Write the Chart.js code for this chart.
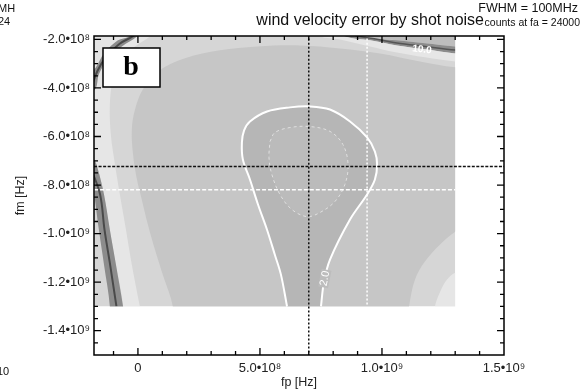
<!DOCTYPE html>
<html>
<head>
<meta charset="utf-8">
<script src="https://cdn.jsdelivr.net/npm/chart.js@4.4.1/dist/chart.umd.min.js"></script>
<style>
  html, body { margin: 0; padding: 0; background: #fff; }
</style>
</head>
<body>
<canvas id="myChart" width="581" height="392"></canvas>
<script>
const E8 = 1e8;

const xTickValues = [0, 5e8, 1e9, 1.5e9];
const xTickLabels = ['0', '5.0•10⁸', '1.0•10⁹', '1.5•10⁹'];
const yTickValues = [-2e8, -4e8, -6e8, -8e8, -1e9, -1.2e9, -1.4e9];
const yTickLabels = ['-2.0•10⁸', '-4.0•10⁸', '-6.0•10⁸', '-8.0•10⁸', '-1.0•10⁹', '-1.2•10⁹', '-1.4•10⁹'];

// computed map area
const mapArea = [[-3, 0], [13, 0], [13, -13], [-3, -13]];
const cornerTopLeft = [[-2.5, -1.5], [-0.15, -1.5], [-0.33, -1.88], [-0.8, -2.08], [-1.37, -2.62], [-1.7, -3.2], [-2.3, -3.95]];
const mediumBlob = [[1.43, -14], [1.43, -13], [1.02, -11.69], [0.70, -10.66], [0.41, -9.63], [0.16, -8.60], [-0.04, -7.77],
  [-0.20, -6.74], [-0.25, -5.71], [-0.12, -4.89], [0.20, -4.06], [0.82, -3.32], [1.93, -2.78], [3.36, -2.45], [4.88, -2.29],
  [6.64, -2.25], [8.28, -2.37], [9.92, -2.58], [11.56, -2.91], [13, -3.15], [15, -3.3], [15, -9.4], [13.6, -9.6], [13, -9.92],
  [12.38, -10.45], [11.76, -11.15], [11.35, -11.90], [11.11, -13], [11.0, -14]];
const paleLeft = [[0.7, -1.6], [0.49, -1.88], [-0.12, -2.29], [-0.66, -2.82], [-1.02, -3.65], [-1.15, -4.68], [-1.11, -5.92],
  [-0.94, -7.15], [-0.74, -8.39], [-0.49, -9.84], [-0.25, -11.28], [0.08, -13], [0.2, -13.6], [-0.7, -13.6], [-0.61, -13],
  [-0.90, -11.28], [-1.15, -9.84], [-1.39, -8.39], [-1.64, -7.36], [-1.85, -6.85], [-2.3, -6.3], [-2.3, -4.3], [-1.76, -4.06],
  [-1.60, -3.44], [-1.23, -2.82], [-0.66, -2.29], [-0.04, -1.88], [0.1, -1.6]];
const stripeTopLeft = [[0.1, -1.6], [-0.04, -1.88], [-0.66, -2.29], [-1.23, -2.82], [-1.60, -3.44], [-1.76, -4.06], [-2.3, -4.3],
  [-2.3, -3.9], [-1.72, -3.15], [-1.39, -2.58], [-0.82, -2.04], [-0.37, -1.88], [-0.2, -1.6]];
const bandLeft = [[-2.3, -6.6], [-1.80, -6.95], [-1.64, -7.36], [-1.39, -8.39], [-1.15, -9.84], [-0.90, -11.28], [-0.61, -13],
  [-0.55, -13.6], [-1.2, -13.6], [-1.15, -13], [-1.39, -11.28], [-1.60, -9.84], [-1.76, -8.60], [-1.85, -7.9], [-2.3, -7.6]];
const capTopRight = [[8.9, -1.5], [14, -1.5], [14, -2.35], [13, -2.29], [11.76, -2.16], [10.61, -2.04], [9.10, -1.88]];
const bandTopRight = [[8.9, -1.6], [9.10, -1.88], [10.61, -2.04], [11.76, -2.16], [13, -2.29], [14, -2.35], [14, -2.62],
  [13, -2.58], [11.76, -2.41], [10.61, -2.25], [9.51, -2.04], [8.48, -1.88], [8.2, -1.6]];
const paleTopRight = [[8.2, -1.6], [8.48, -1.88], [9.51, -2.04], [10.61, -2.25], [11.76, -2.41], [13, -2.58], [14, -2.62],
  [14, -2.97], [13, -2.91], [11.76, -2.74], [10.61, -2.54], [9.51, -2.29], [8.28, -2.0], [7.46, -1.88], [7.2, -1.6]];
const paleBottomRight = [[12.1, -14], [12.17, -13], [12.38, -12.40], [12.66, -11.90], [13, -11.61], [14, -11.4], [14, -14]];

// 2.0 contour (white) and the inner dashed contour
const contour20 = [[6.11, -13], [5.86, -11.69], [5.61, -10.87], [5.29, -9.84], [4.92, -8.80], [4.59, -7.77], [4.30, -6.95],
  [4.26, -6.25], [4.35, -5.75], [4.59, -5.38], [5.29, -4.97], [6.23, -4.80], [7.05, -4.76], [7.87, -4.89], [8.69, -5.38],
  [9.39, -6.04], [9.71, -6.62], [9.80, -7.15], [9.71, -7.77], [9.39, -8.39], [8.69, -9.42], [7.87, -11.07], [7.62, -12.0], [7.50, -13]];
const contourInner = [[5.41, -6.21], [5.61, -5.84], [6.23, -5.63], [7.05, -5.59], [7.87, -5.79], [8.40, -6.33], [8.61, -7.15],
  [8.48, -7.98], [8.07, -8.68], [7.46, -9.13], [6.93, -9.30], [6.31, -9.01], [5.82, -8.39], [5.49, -7.57], [5.37, -6.87], [5.41, -6.21]];

// darker contour lines inside the high bands
const coreLeft = [[-1.95, -7.25], [-1.55, -8.39], [-1.37, -9.84], [-1.14, -11.28], [-0.88, -13]];
const coreTopLeft = [[0.0, -1.7], [-0.22, -1.88], [-0.75, -2.18], [-1.3, -2.72], [-1.66, -3.3], [-1.9, -3.95]];
const coreTopRight = [[8.9, -1.85], [9.8, -1.99], [10.61, -2.15], [11.76, -2.29], [13, -2.44], [14, -2.5]];

const outside = [[13, -1.5], [16, -1.5], [16, -16], [-3, -16], [-3, -13], [13, -13]];

// marker lines
const fpMark = [[7.0, -1.8], [7.0, -15]];
const fmMark = [[-1.8, -7.24], [15, -7.24]];
const fpWhite = [[9.39, -1.8], [9.39, -13]];
const fmWhite = [[-1.8, -8.19], [13, -8.19]];

function toXY(pts) {
  return pts.map(p => ({x: p[0] * E8, y: p[1] * E8}));
}
function area(pts, color, tension) {
  return {data: toXY(pts), backgroundColor: color, borderColor: 'transparent', borderWidth: 0,
    fill: 'shape', pointRadius: 0, tension: tension === undefined ? 0.35 : tension};
}
function line(pts, color, width, dash) {
  return {data: toXY(pts), borderColor: color, borderWidth: width, borderDash: dash || [],
    fill: false, pointRadius: 0, tension: 0.35};
}

// painting order: first is at the bottom
const layers = [
  area(mapArea, '#d6d6d6', 0),
  area(cornerTopLeft, '#e4e4e4'),
  area(mediumBlob, '#c6c6c6'),
  area(paleLeft, '#e6e6e6'),
  area(stripeTopLeft, '#8c8c8c'),
  area(bandLeft, '#8c8c8c'),
  area(capTopRight, '#bdbdbd'),
  area(bandTopRight, '#8c8c8c'),
  area(paleTopRight, '#e6e6e6'),
  area(paleBottomRight, '#e6e6e6'),
  area(contour20.concat([[7.45, -13.6], [6.15, -13.6]]), '#b6b6b6'),
  area(contourInner, '#bbbbbb'),
  line(coreLeft, '#4a4a4a', 2),
  line(coreTopLeft, '#4a4a4a', 2),
  line(coreTopRight, '#555555', 1.5),
  line(contour20, '#ffffff', 2),
  line(contourInner, '#e0e0e0', 1, [3, 3]),
  area(outside, '#ffffff', 0),
  line(fpWhite, '#ffffff', 1.5, [2, 2]),
  line(fmWhite, '#ffffff', 1.5, [4, 2]),
  line(fpMark, '#111111', 1.5, [2, 2]),
  line(fmMark, '#111111', 1.5, [3, 1.5])
];
layers.forEach((d, i) => { d.order = layers.length - i; });

const SANS = "'Liberation Sans', Arial, sans-serif";

const framePlugin = {
  id: 'frame',
  afterDatasetsDraw(chart) {
    const {ctx, chartArea: a, scales: {x, y}} = chart;
    ctx.save();

    // contour labels
    ctx.fillStyle = '#ffffff';
    ctx.textAlign = 'center';
    ctx.textBaseline = 'middle';
    ctx.save();
    ctx.translate(x.getPixelForValue(7.66e8), y.getPixelForValue(-11.85e8));
    ctx.rotate(-1.38);
    ctx.fillStyle = '#bdbdbd';
    ctx.fillRect(-9, -5, 18, 10);
    ctx.fillStyle = '#ffffff';
    ctx.font = '11px ' + SANS;
    ctx.fillText('2.0', 0, 0);
    ctx.restore();
    ctx.save();
    ctx.translate(x.getPixelForValue(11.64e8), y.getPixelForValue(-2.42e8));
    ctx.rotate(0.12);
    ctx.font = 'bold 10px ' + SANS;
    ctx.fillText('10.0', 0, 0);
    ctx.restore();

    // panel letter
    ctx.fillStyle = '#fff';
    ctx.fillRect(a.left + 9, a.top + 12, 57, 39);
    ctx.strokeStyle = '#000';
    ctx.lineWidth = 1.5;
    ctx.strokeRect(a.left + 9, a.top + 12, 57, 39);
    ctx.fillStyle = '#000';
    ctx.font = "bold 28px 'Liberation Serif', 'DejaVu Serif', serif";
    ctx.fillText('b', a.left + 37, a.top + 32);

    // frame
    ctx.strokeRect(a.left, a.top, a.right - a.left, a.bottom - a.top);

    // inward ticks on all four sides
    ctx.lineWidth = 1.3;
    ctx.beginPath();
    const xt = (v, len) => {
      const px = x.getPixelForValue(v);
      ctx.moveTo(px, a.bottom); ctx.lineTo(px, a.bottom - len);
      ctx.moveTo(px, a.top); ctx.lineTo(px, a.top + len);
    };
    const yt = (v, len) => {
      const py = y.getPixelForValue(v);
      ctx.moveTo(a.left, py); ctx.lineTo(a.left + len, py);
      ctx.moveTo(a.right, py); ctx.lineTo(a.right - len, py);
    };
    for (let k = -1; k <= 14; k++) xt(k * 1e8, k % 5 === 0 ? 7 : 4);
    for (let k = -29; k <= -4; k++) yt(k * 5e7, k % 4 === 0 ? 7 : 4);
    ctx.stroke();
    ctx.restore();
  },
  afterDraw(chart) {
    const ctx = chart.ctx;
    ctx.save();
    ctx.fillStyle = '#111';
    ctx.textBaseline = 'alphabetic';
    ctx.textAlign = 'right';
    ctx.font = '16px ' + SANS;
    ctx.fillText('wind velocity error by shot noise', 484, 25);
    ctx.font = '12.5px ' + SANS;
    ctx.fillText('FWHM = 100MHz', 578, 12);
    ctx.font = '10.5px ' + SANS;
    ctx.fillText('counts at fa = 24000', 580, 26);
    // pieces of the neighbouring panel
    ctx.textAlign = 'left';
    ctx.font = '11px ' + SANS;
    ctx.fillText('MH', -2, 12);
    ctx.fillText('24', -2, 25);
    ctx.fillText('10', -3, 375);
    ctx.restore();
  }
};

const ctx = document.getElementById('myChart').getContext('2d');
const myChart = new Chart(ctx, {
  type: 'line',
  data: { datasets: layers },
  options: {
    responsive: false,
    animation: false,
    devicePixelRatio: 1,
    layout: { padding: { top: 36, right: 77, bottom: 0, left: 0 } },
    plugins: { legend: { display: false }, tooltip: { enabled: false } },
    scales: {
      x: {
        type: 'linear', min: -1.8e8, max: 1.5e9,
        grid: { display: false, drawTicks: false },
        border: { display: false },
        afterBuildTicks: s => { s.ticks = xTickValues.map(v => ({value: v})); },
        afterFit: s => { s.height = 37; },
        ticks: { callback: (v, i) => xTickLabels[i], autoSkip: false, maxRotation: 0,
          font: { family: SANS, size: 13 }, color: '#222', padding: 6 },
        title: { display: true, text: 'fp [Hz]', font: { family: SANS, size: 12.5 }, color: '#222',
          padding: { top: 0, bottom: 2 } }
      },
      y: {
        type: 'linear', min: -1.5e9, max: -1.86e8,
        grid: { display: false, drawTicks: false },
        border: { display: false },
        afterBuildTicks: s => { s.ticks = yTickValues.map(v => ({value: v})); },
        afterFit: s => { s.width = 94; },
        ticks: { callback: (v, i) => yTickLabels[i], autoSkip: false,
          font: { family: SANS, size: 13 }, color: '#222', padding: 4 },
        title: { display: true, text: 'fm [Hz]', font: { family: SANS, size: 12.5 }, color: '#222',
          padding: { top: 13, bottom: 0 } }
      }
    }
  },
  plugins: [framePlugin]
});
</script>
</body>
</html>
